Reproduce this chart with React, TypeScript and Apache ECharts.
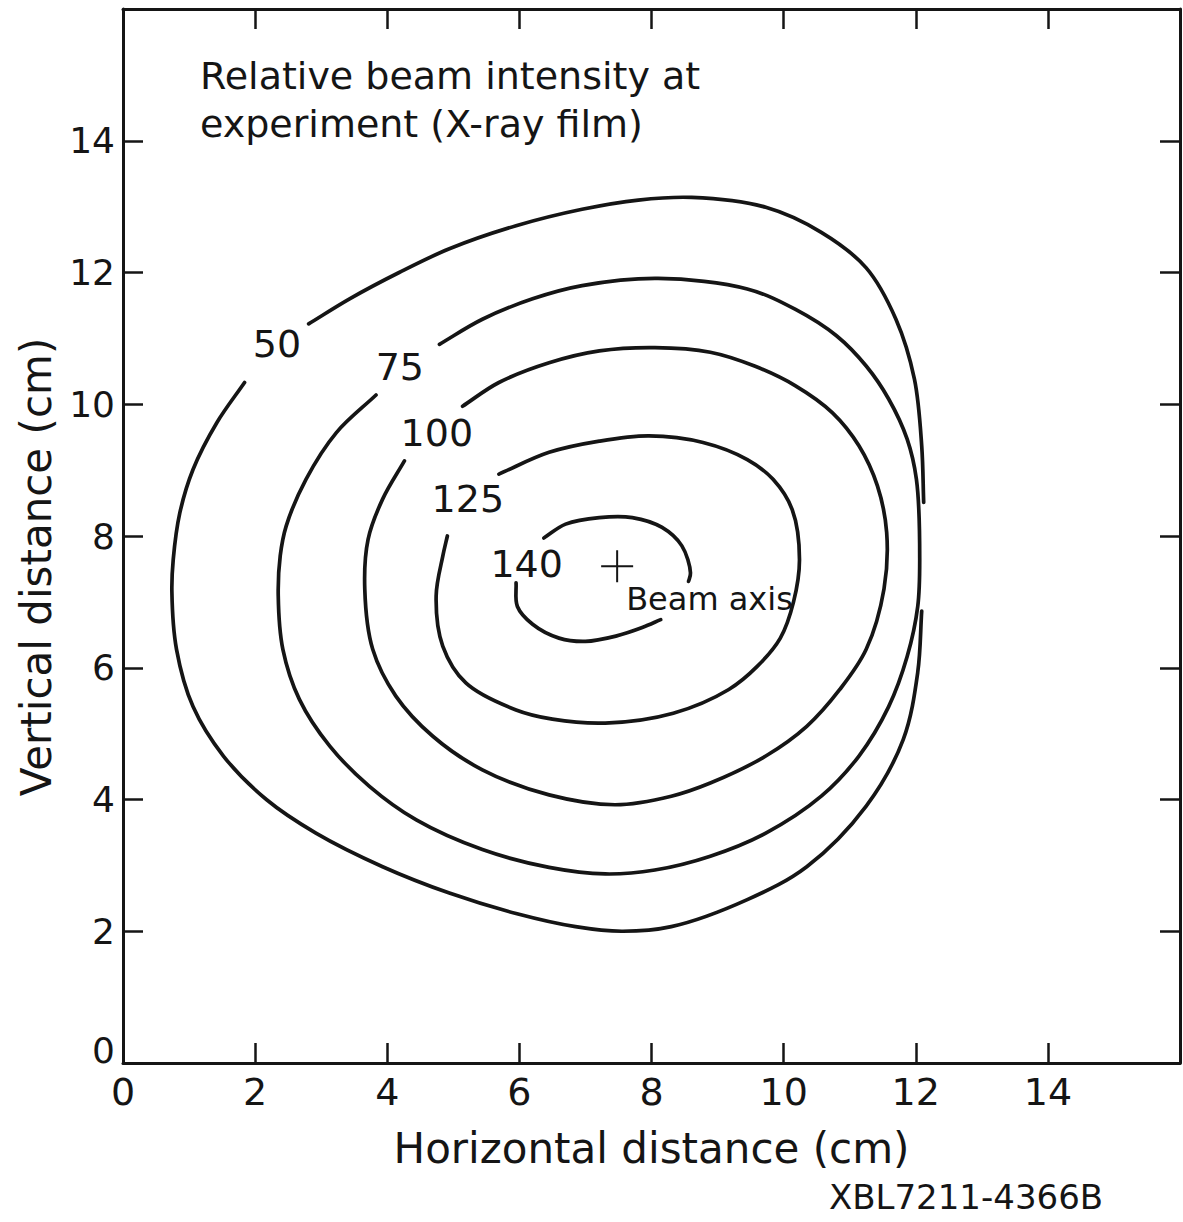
import React, { useEffect, useRef } from "react";
import * as echarts from "echarts";

// ---- axis ticks ----
const xTickValues = [0, 2, 4, 6, 8, 10, 12, 14];
const yTickValues = [0, 2, 4, 6, 8, 10, 12, 14];

// ---- contour lines (horizontal cm, vertical cm), split where labels interrupt ----
const contour50a = [
  [12.12, 8.51], [12.09, 9.37], [11.98, 10.38], [11.7, 11.29], [11.25, 12.07], [10.57, 12.61],
  [9.73, 12.99], [8.61, 13.14], [7.8, 13.1], [6.95, 12.96], [5.95, 12.71], [4.94, 12.36],
  [4.18, 12.0], [3.43, 11.6], [2.81, 11.22],
];
const contour50b = [
  [1.84, 10.33], [1.42, 9.72], [1.06, 9.01], [0.86, 8.35], [0.76, 7.64], [0.74, 7.15],
  [0.81, 6.28], [1.06, 5.41], [1.52, 4.66], [2.17, 4.0], [2.92, 3.49], [3.93, 2.98],
  [4.94, 2.58], [5.95, 2.27], [6.85, 2.07], [7.55, 2.0], [8.3, 2.07],
  [9.45, 2.48], [10.35, 2.98], [11.25, 3.9], [11.81, 4.91], [12.03, 5.93], [12.09, 6.86],
];
const contour75a = [
  [4.79, 10.91], [5.44, 11.29], [6.2, 11.6], [6.95, 11.8], [8.1, 11.91],
  [9.45, 11.75], [10.18, 11.44], [10.8, 11.04], [11.25, 10.58], [11.59, 10.08], [11.87, 9.47],
  [12.01, 8.86], [12.06, 7.64], [12.03, 6.93], [11.87, 6.17], [11.59, 5.41], [11.14, 4.66],
  [10.57, 4.05], [9.73, 3.49], [8.89, 3.14], [8.05, 2.93], [7.3, 2.87], [6.45, 2.97],
  [5.44, 3.24], [4.44, 3.69], [3.73, 4.2], [3.13, 4.81], [2.67, 5.52], [2.42, 6.28],
  [2.35, 7.09], [2.38, 7.7], [2.47, 8.15], [2.77, 8.86], [3.23, 9.57], [3.83, 10.14],
];
const contour100a = [
  [5.14, 9.97], [5.69, 10.33], [6.45, 10.63], [7.21, 10.81], [8.05, 10.86], [8.89, 10.79],
  [9.56, 10.58], [10.18, 10.28], [10.74, 9.87], [11.14, 9.37], [11.42, 8.76], [11.56, 8.05],
  [11.52, 7.2], [11.25, 6.28], [10.85, 5.67], [10.35, 5.11], [9.73, 4.66],
  [8.89, 4.25], [8.3, 4.05], [7.45, 3.92], [6.45, 4.07], [5.44, 4.45], [4.69, 4.96],
  [4.13, 5.57], [3.78, 6.28], [3.66, 7.19], [3.71, 7.95], [3.93, 8.56], [4.26, 9.14],
];
const contour125a = [
  [5.69, 8.94], [6.45, 9.27], [7.21, 9.44], [7.96, 9.52], [8.78, 9.42], [9.45, 9.16],
  [9.84, 8.86], [10.13, 8.4], [10.24, 7.64], [10.15, 7.0], [9.95, 6.45], [9.6, 6.02],
  [9.17, 5.67], [8.33, 5.31], [7.3, 5.16], [6.5, 5.22], [5.95, 5.36], [5.19, 5.77],
  [4.84, 6.33], [4.74, 7.09], [4.84, 7.69], [4.91, 8.0],
];
const contour140a = [
  [6.37, 7.97], [6.7, 8.18], [7.21, 8.28], [7.71, 8.28], [8.16, 8.13], [8.46, 7.85],
  [8.59, 7.44], [8.56, 7.31],
];
const contour140b = [
  [5.95, 7.29], [5.97, 6.93], [6.2, 6.66], [6.6, 6.45], [7.0, 6.4], [7.46, 6.48],
  [7.86, 6.61], [8.14, 6.73],
];

// ---- contour labels ----
const contourLevels = ["50", "75", "100", "125", "140"];
const contourLabelX = [2.33, 4.19, 4.75, 5.22, 6.11];
const contourLabelY = [10.91, 10.57, 9.57, 8.56, 7.57];

// ---- beam axis marker ----
const beamAxisPoint = [7.48, 7.54];

const INK = "#151515";
const FONT = '"DejaVu Sans", "Liberation Sans", sans-serif';

const segments: { name: string; data: number[][] }[] = [
  { name: "50", data: contour50a },
  { name: "50", data: contour50b },
  { name: "75", data: contour75a },
  { name: "100", data: contour100a },
  { name: "125", data: contour125a },
  { name: "140", data: contour140a },
  { name: "140", data: contour140b },
];

// Smooth path (centripetal Catmull-Rom as cubic Béziers) through pixel points
function splinePath(pts: number[][]): string {
  const n = pts.length;
  if (n < 2) return "";
  const ext = [
    [2 * pts[0][0] - pts[1][0], 2 * pts[0][1] - pts[1][1]],
    ...pts,
    [2 * pts[n - 1][0] - pts[n - 2][0], 2 * pts[n - 1][1] - pts[n - 2][1]],
  ];
  const f = (v: number) => v.toFixed(2);
  let d = `M${f(pts[0][0])},${f(pts[0][1])}`;
  for (let i = 1; i < ext.length - 2; i++) {
    const p0 = ext[i - 1], p1 = ext[i], p2 = ext[i + 1], p3 = ext[i + 2];
    const d1 = Math.max(1e-6, Math.sqrt(Math.hypot(p1[0] - p0[0], p1[1] - p0[1])));
    const d2 = Math.max(1e-6, Math.sqrt(Math.hypot(p2[0] - p1[0], p2[1] - p1[1])));
    const d3 = Math.max(1e-6, Math.sqrt(Math.hypot(p3[0] - p2[0], p3[1] - p2[1])));
    const a = 2 * d1 * d1 + 3 * d1 * d2 + d2 * d2;
    const b = 3 * d1 * (d1 + d2);
    const c = 2 * d3 * d3 + 3 * d3 * d2 + d2 * d2;
    const e = 3 * d3 * (d3 + d2);
    const c1 = [
      (d1 * d1 * p2[0] - d2 * d2 * p0[0] + a * p1[0]) / b,
      (d1 * d1 * p2[1] - d2 * d2 * p0[1] + a * p1[1]) / b,
    ];
    const c2 = [
      (d3 * d3 * p1[0] - d2 * d2 * p3[0] + c * p2[0]) / e,
      (d3 * d3 * p1[1] - d2 * d2 * p3[1] + c * p2[1]) / e,
    ];
    d += `C${f(c1[0])},${f(c1[1])} ${f(c2[0])},${f(c2[1])} ${f(p2[0])},${f(p2[1])}`;
  }
  return d;
}

function buildOption(): any {
  const frameLine = { show: true, onZero: false, lineStyle: { color: INK, width: 3 } };
  const tick = { show: true, inside: true, length: 20, lineStyle: { color: INK, width: 2.5 } };
  const baseAxis = { type: "value", min: 0, max: 16, interval: 2, splitLine: { show: false } };

  return {
    animation: false,
    backgroundColor: "#ffffff",
    title: {
      text: "Relative beam intensity at\nexperiment (X-ray film)",
      left: 200,
      top: 52,
      padding: 0,
      textStyle: { fontSize: 38, fontWeight: "normal", color: INK, fontFamily: FONT, lineHeight: 48 },
    },
    grid: { left: 123, right: 2, top: 9, bottom: 159, containLabel: false },
    xAxis: [
      {
        ...baseAxis,
        position: "bottom",
        axisLine: frameLine,
        axisTick: tick,
        axisLabel: {
          show: true,
          margin: 10,
          fontSize: 38,
          color: INK,
          fontFamily: FONT,
          formatter: (v: number) => (xTickValues.includes(v) ? String(v) : ""),
        },
        name: "Horizontal distance (cm)",
        nameLocation: "middle",
        nameGap: 64,
        nameTextStyle: { fontSize: 42, color: INK, fontFamily: FONT },
      },
      {
        ...baseAxis,
        position: "top",
        axisLine: frameLine,
        axisTick: tick,
        axisLabel: { show: false },
      },
    ],
    yAxis: [
      {
        ...baseAxis,
        position: "left",
        axisLine: frameLine,
        axisTick: tick,
        axisLabel: {
          show: true,
          margin: 8,
          fontSize: 36,
          color: INK,
          fontFamily: FONT,
          formatter: (v: number) =>
            yTickValues.includes(v) ? (v === 0 ? "{z|0}" : String(v)) : "",
          rich: { z: { fontSize: 36, color: INK, fontFamily: FONT, padding: [0, 0, 26, 0] } },
        },
        name: "Vertical distance (cm)",
        nameLocation: "middle",
        nameGap: 66,
        nameTextStyle: { fontSize: 42, color: INK, fontFamily: FONT, padding: [0, 62, 0, 0] },
      },
      {
        ...baseAxis,
        position: "right",
        axisLine: frameLine,
        axisTick: tick,
        axisLabel: { show: false },
      },
    ],
    series: [
      ...segments.map((s) => ({
        type: "custom",
        name: s.name,
        xAxisIndex: 0,
        yAxisIndex: 0,
        silent: true,
        clip: false,
        data: s.data,
        encode: { x: 0, y: 1 },
        renderItem: (params: any, api: any) => {
          if (params.dataIndex !== 0) return null;
          const pix = s.data.map((p) => api.coord(p));
          return {
            type: "path",
            shape: { pathData: splinePath(pix) },
            style: { fill: "none", stroke: INK, lineWidth: 3.7, lineCap: "round", lineJoin: "round" },
          };
        },
      })),
      {
        type: "scatter",
        name: "levels",
        xAxisIndex: 0,
        yAxisIndex: 0,
        symbolSize: 1,
        silent: true,
        itemStyle: { color: "rgba(0,0,0,0)", opacity: 1 },
        data: contourLevels.map((lv, i) => ({ name: lv, value: [contourLabelX[i], contourLabelY[i]] })),
        label: {
          show: true,
          position: "inside",
          formatter: "{b}",
          fontSize: 38,
          color: INK,
          opacity: 1,
          fontFamily: FONT,
        },
      },
      {
        type: "scatter",
        name: "Beam axis",
        xAxisIndex: 0,
        yAxisIndex: 0,
        silent: true,
        symbol:
          "path://M-0.0625,-1H0.0625V-0.0625H1V0.0625H0.0625V1H-0.0625V0.0625H-1V-0.0625H-0.0625Z",
        symbolSize: 32,
        itemStyle: { color: INK, opacity: 1 },
        data: [{ name: "Beam axis", value: beamAxisPoint }],
        label: {
          show: true,
          formatter: "{b}",
          position: [25, 49],
          align: "left",
          verticalAlign: "middle",
          fontSize: 32,
          color: INK,
          opacity: 1,
          fontFamily: FONT,
        },
      },
    ],
    graphic: [
      {
        type: "text",
        x: 966,
        y: 1197,
        silent: true,
        style: {
          text: "XBL7211-4366B",
          fontSize: 34,
          fontFamily: FONT,
          fill: INK,
          align: "center",
          verticalAlign: "middle",
        },
      },
    ],
  };
}

export default function App() {
  const ref = useRef<HTMLDivElement>(null);
  useEffect(() => {
    if (!ref.current) return;
    const chart = echarts.init(ref.current, null, { renderer: "svg" });
    chart.setOption(buildOption());
    return () => {
      chart.dispose();
    };
  }, []);
  return (
    <div
      ref={ref}
      style={{ position: "absolute", left: 0, top: 0, width: 1183, height: 1222, background: "#ffffff" }}
    />
  );
}
